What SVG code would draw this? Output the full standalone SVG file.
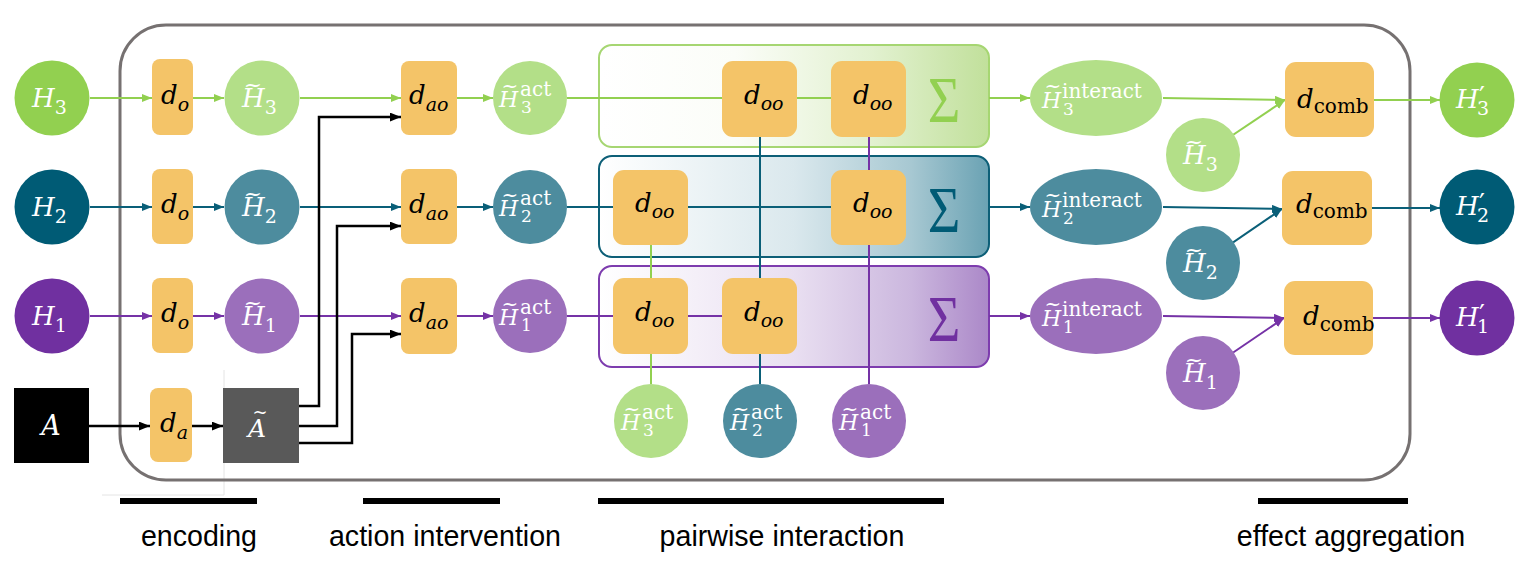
<svg xmlns="http://www.w3.org/2000/svg" width="1527" height="577" viewBox="0 0 1527 577">
<defs>
<style>
.mi{font-family:"DejaVu Serif","Liberation Serif",serif;font-style:italic}
.up{font-family:"DejaVu Serif","Liberation Serif",serif;font-style:normal}
.pr{font-family:"DejaVu Sans","Liberation Sans",sans-serif;font-style:normal}
.w{fill:#fff}
.k{fill:#000}
.op{fill:#f4c468}
.lg{stroke:#92d050;stroke-width:2;fill:none}
.lt{stroke:#0a5f78;stroke-width:2;fill:none}
.lp{stroke:#7532a6;stroke-width:2;fill:none}
.lk{stroke:#000;stroke-width:2.5;fill:none}
.lab{font-family:"Liberation Sans",Arial,sans-serif;font-size:28.6px;fill:#000;text-anchor:middle}
.sig{font-family:"Liberation Serif","Times New Roman",serif;font-size:66px;text-anchor:middle}
</style>
<marker id="mG" viewBox="0 0 10 8" refX="10" refY="4" markerWidth="10" markerHeight="8" markerUnits="userSpaceOnUse" orient="auto"><path d="M0,0 L10,4 L0,8 z" fill="#92d050"/></marker>
<marker id="mT" viewBox="0 0 10 8" refX="10" refY="4" markerWidth="10" markerHeight="8" markerUnits="userSpaceOnUse" orient="auto"><path d="M0,0 L10,4 L0,8 z" fill="#0a5f78"/></marker>
<marker id="mP" viewBox="0 0 10 8" refX="10" refY="4" markerWidth="10" markerHeight="8" markerUnits="userSpaceOnUse" orient="auto"><path d="M0,0 L10,4 L0,8 z" fill="#7532a6"/></marker>
<marker id="mK" viewBox="0 0 10 8" refX="10" refY="4" markerWidth="11" markerHeight="9" markerUnits="userSpaceOnUse" orient="auto"><path d="M0,0 L10,4 L0,8 z" fill="#000"/></marker>
<linearGradient id="gG" x1="0" y1="0" x2="1" y2="0">
<stop offset="0" stop-color="#ffffff"/><stop offset="0.35" stop-color="#fbfdf8"/><stop offset="0.7" stop-color="#e2f1d0"/><stop offset="1" stop-color="#c1e09b"/>
</linearGradient>
<linearGradient id="gT" x1="0" y1="0" x2="1" y2="0">
<stop offset="0" stop-color="#ffffff"/><stop offset="0.5" stop-color="#dae8ed"/><stop offset="0.8" stop-color="#a7c8d2"/><stop offset="1" stop-color="#6aa2b3"/>
</linearGradient>
<linearGradient id="gP" x1="0" y1="0" x2="1" y2="0">
<stop offset="0" stop-color="#ffffff"/><stop offset="0.5" stop-color="#e9dff1"/><stop offset="0.8" stop-color="#cbb7de"/><stop offset="1" stop-color="#ab88c8"/>
</linearGradient>
</defs>

<rect width="1527" height="577" fill="#fff"/>

<path d="M224,370 V495 H102" stroke="#e4e4e4" stroke-width="1" fill="none"/>

<rect id="frame" x="120" y="25" width="1290" height="455" rx="46" fill="none" stroke="#767171" stroke-width="3"/>

<g id="row3box"><rect x="599" y="45" width="390" height="102" rx="13" fill="url(#gG)" stroke="#a6d672" stroke-width="2"/></g>
<g id="row2box"><rect x="599" y="156" width="390" height="101" rx="13" fill="url(#gT)" stroke="#0d5f77" stroke-width="2"/></g>
<g id="row1box"><rect x="599" y="266" width="390" height="101" rx="13" fill="url(#gP)" stroke="#7d3cae" stroke-width="2"/></g>

<g id="connectors">
<line class="lg" x1="90" y1="98" x2="152" y2="98" marker-end="url(#mG)"/>
<line class="lg" x1="193" y1="98" x2="224" y2="98" marker-end="url(#mG)"/>
<line class="lg" x1="300" y1="98" x2="401" y2="98" marker-end="url(#mG)"/>
<line class="lg" x1="457" y1="98" x2="493" y2="98" marker-end="url(#mG)"/>
<line class="lg" x1="567" y1="98" x2="722" y2="98"/>
<line class="lg" x1="797" y1="98" x2="831" y2="98"/>
<line class="lg" x1="989" y1="98" x2="1030" y2="98" marker-end="url(#mG)"/>
<line class="lg" x1="1163" y1="98" x2="1285" y2="100" marker-end="url(#mG)"/>
<line class="lg" x1="1203" y1="155" x2="1285" y2="100" marker-end="url(#mG)"/>
<line class="lg" x1="1374" y1="100" x2="1440" y2="100" marker-end="url(#mG)"/>
<line class="lg" x1="651" y1="245" x2="651" y2="384"/>
<line class="lt" x1="90" y1="207" x2="152" y2="207" marker-end="url(#mT)"/>
<line class="lt" x1="193" y1="207" x2="224" y2="207" marker-end="url(#mT)"/>
<line class="lt" x1="300" y1="207" x2="401" y2="207" marker-end="url(#mT)"/>
<line class="lt" x1="457" y1="207" x2="493" y2="207" marker-end="url(#mT)"/>
<line class="lt" x1="567" y1="207" x2="613" y2="207"/>
<line class="lt" x1="688" y1="207" x2="831" y2="207"/>
<line class="lt" x1="989" y1="207" x2="1030" y2="207" marker-end="url(#mT)"/>
<line class="lt" x1="1163" y1="207" x2="1282" y2="209" marker-end="url(#mT)"/>
<line class="lt" x1="1203" y1="263" x2="1282" y2="209" marker-end="url(#mT)"/>
<line class="lt" x1="1372" y1="208" x2="1440" y2="208" marker-end="url(#mT)"/>
<line class="lt" x1="760" y1="137" x2="760" y2="384"/>
<line class="lp" x1="90" y1="316" x2="152" y2="316" marker-end="url(#mP)"/>
<line class="lp" x1="193" y1="316" x2="224" y2="316" marker-end="url(#mP)"/>
<line class="lp" x1="300" y1="316" x2="401" y2="316" marker-end="url(#mP)"/>
<line class="lp" x1="457" y1="316" x2="493" y2="316" marker-end="url(#mP)"/>
<line class="lp" x1="567" y1="316" x2="613" y2="316"/>
<line class="lp" x1="688" y1="316" x2="722" y2="316"/>
<line class="lp" x1="989" y1="316" x2="1030" y2="316" marker-end="url(#mP)"/>
<line class="lp" x1="1163" y1="316" x2="1284" y2="318" marker-end="url(#mP)"/>
<line class="lp" x1="1203" y1="373" x2="1284" y2="318" marker-end="url(#mP)"/>
<line class="lp" x1="1373" y1="318" x2="1440" y2="318" marker-end="url(#mP)"/>
<line class="lp" x1="869" y1="137" x2="869" y2="384"/>
<line class="lk" x1="89" y1="426" x2="150" y2="426" marker-end="url(#mK)"/>
<line class="lk" x1="192" y1="426" x2="223" y2="426" marker-end="url(#mK)"/>
<polyline class="lk" points="299,406 319,406 319,117 401,117" marker-end="url(#mK)"/>
<polyline class="lk" points="299,426 337,426 337,226 401,226" marker-end="url(#mK)"/>
<polyline class="lk" points="299,443 352,443 352,334 401,334" marker-end="url(#mK)"/>
</g>

<g id="H3"><circle cx="52" cy="98" r="37.5" fill="#92d050"/><text class="mi w" x="32" y="107" font-size="26">H<tspan class="up" font-size="19" dy="7">3</tspan></text></g>
<g id="H2"><circle cx="52" cy="207" r="37.5" fill="#005b75"/><text class="mi w" x="32" y="216" font-size="26">H<tspan class="up" font-size="19" dy="7">2</tspan></text></g>
<g id="H1"><circle cx="52" cy="316" r="37.5" fill="#7030a0"/><text class="mi w" x="32" y="325" font-size="26">H<tspan class="up" font-size="19" dy="7">1</tspan></text></g>
<g id="A"><rect x="14" y="388" width="75" height="75" fill="#000"/><text class="mi w" x="51" y="435" font-size="27" text-anchor="middle">A</text></g>

<g id="do3"><rect class="op" x="152" y="59" width="41" height="76" rx="8"/><text class="mi k" x="161" y="104" font-size="26">d<tspan font-size="19" dy="7">o</tspan></text></g>
<g id="do2"><rect class="op" x="152" y="169" width="41" height="75" rx="8"/><text class="mi k" x="161" y="213" font-size="26">d<tspan font-size="19" dy="7">o</tspan></text></g>
<g id="do1"><rect class="op" x="152" y="278" width="41" height="75" rx="8"/><text class="mi k" x="161" y="322" font-size="26">d<tspan font-size="19" dy="7">o</tspan></text></g>
<g id="da"><rect class="op" x="150" y="388" width="42" height="74" rx="8"/><text class="mi k" x="160" y="432" font-size="26">d<tspan font-size="19" dy="7">a</tspan></text></g>

<g id="Ht3"><circle cx="262" cy="98" r="37.5" fill="#b3df88"/><text class="up w" x="243.8" y="92" font-size="22">~<tspan class="mi" x="242" y="107" font-size="26">H</tspan><tspan font-size="19" dy="7">3</tspan></text></g>
<g id="Ht2"><circle cx="262" cy="207" r="37.5" fill="#4d8c9e"/><text class="up w" x="243.8" y="201" font-size="22">~<tspan class="mi" x="242" y="216" font-size="26">H</tspan><tspan font-size="19" dy="7">2</tspan></text></g>
<g id="Ht1"><circle cx="262" cy="316" r="37.5" fill="#9b6fbb"/><text class="up w" x="243.8" y="310" font-size="22">~<tspan class="mi" x="242" y="325" font-size="26">H</tspan><tspan font-size="19" dy="7">1</tspan></text></g>
<g id="At"><rect x="223" y="388" width="76" height="75" fill="#595959"/><text class="up w" x="252.5" y="418" font-size="18">~<tspan class="mi" x="248" y="437" font-size="25">A</tspan></text></g>

<g id="dao3"><rect class="op" x="401" y="61" width="56" height="74" rx="8"/><text class="mi k" x="409" y="104" font-size="26">d<tspan font-size="19" dy="7">ao</tspan></text></g>
<g id="dao2"><rect class="op" x="401" y="169" width="56" height="75" rx="8"/><text class="mi k" x="409" y="213" font-size="26">d<tspan font-size="19" dy="7">ao</tspan></text></g>
<g id="dao1"><rect class="op" x="401" y="278" width="56" height="76" rx="8"/><text class="mi k" x="409" y="322" font-size="26">d<tspan font-size="19" dy="7">ao</tspan></text></g>

<g id="Hact3"><circle cx="530" cy="98" r="37" fill="#b3df88"/><text class="up w" x="501.6" y="93" font-size="20">~<tspan class="mi" x="499" y="107" font-size="22">H</tspan><tspan x="520" y="96">act</tspan><tspan x="521" y="113" font-size="17">3</tspan></text></g>
<g id="Hact2"><circle cx="530" cy="207" r="37" fill="#4d8c9e"/><text class="up w" x="501.6" y="202" font-size="20">~<tspan class="mi" x="499" y="216" font-size="22">H</tspan><tspan x="520" y="205">act</tspan><tspan x="521" y="222" font-size="17">2</tspan></text></g>
<g id="Hact1"><circle cx="530" cy="316" r="37" fill="#9b6fbb"/><text class="up w" x="501.6" y="311" font-size="20">~<tspan class="mi" x="499" y="325" font-size="22">H</tspan><tspan x="520" y="314">act</tspan><tspan x="521" y="331" font-size="17">1</tspan></text></g>

<g id="doo3a"><rect class="op" x="722" y="61" width="75" height="76" rx="11"/><text class="mi k" x="744" y="104" font-size="26">d<tspan font-size="19" dy="6">oo</tspan></text></g>
<g id="doo3b"><rect class="op" x="831" y="61" width="75" height="76" rx="11"/><text class="mi k" x="853" y="104" font-size="26">d<tspan font-size="19" dy="6">oo</tspan></text></g>
<g id="doo2a"><rect class="op" x="613" y="170" width="75" height="75" rx="11"/><text class="mi k" x="635" y="212" font-size="26">d<tspan font-size="19" dy="6">oo</tspan></text></g>
<g id="doo2b"><rect class="op" x="831" y="170" width="75" height="75" rx="11"/><text class="mi k" x="853" y="212" font-size="26">d<tspan font-size="19" dy="6">oo</tspan></text></g>
<g id="doo1a"><rect class="op" x="613" y="278" width="75" height="76" rx="11"/><text class="mi k" x="635" y="321" font-size="26">d<tspan font-size="19" dy="6">oo</tspan></text></g>
<g id="doo1b"><rect class="op" x="722" y="278" width="75" height="76" rx="11"/><text class="mi k" x="744" y="321" font-size="26">d<tspan font-size="19" dy="6">oo</tspan></text></g>

<g id="sum3"><text class="sig" fill="#92d050" transform="translate(944,122) scale(0.85,1)">Σ</text></g>
<g id="sum2"><text class="sig" fill="#005b75" transform="translate(944,232) scale(0.85,1)">Σ</text></g>
<g id="sum1"><text class="sig" fill="#7030a0" transform="translate(944,341) scale(0.85,1)">Σ</text></g>

<g id="Hb3"><circle cx="651" cy="421" r="37" fill="#b3df88"/><text class="up w" x="623.6" y="416" font-size="20">~<tspan class="mi" x="621" y="430" font-size="22">H</tspan><tspan x="642" y="419">act</tspan><tspan x="643" y="436" font-size="17">3</tspan></text></g>
<g id="Hb2"><circle cx="760" cy="421" r="37" fill="#4d8c9e"/><text class="up w" x="732.6" y="416" font-size="20">~<tspan class="mi" x="730" y="430" font-size="22">H</tspan><tspan x="751" y="419">act</tspan><tspan x="752" y="436" font-size="17">2</tspan></text></g>
<g id="Hb1"><circle cx="869" cy="421" r="37" fill="#9b6fbb"/><text class="up w" x="841.6" y="416" font-size="20">~<tspan class="mi" x="839" y="430" font-size="22">H</tspan><tspan x="860" y="419">act</tspan><tspan x="861" y="436" font-size="17">1</tspan></text></g>

<g id="Hi3"><ellipse cx="1096" cy="98" rx="66" ry="38" fill="#b3df88"/><text class="up w" x="1044.6" y="93" font-size="20">~<tspan class="mi" x="1042" y="108" font-size="22">H</tspan><tspan x="1062" y="98">interact</tspan><tspan x="1063" y="115" font-size="17">3</tspan></text></g>
<g id="Hi2"><ellipse cx="1096" cy="207" rx="66" ry="38" fill="#4d8c9e"/><text class="up w" x="1044.6" y="202" font-size="20">~<tspan class="mi" x="1042" y="217" font-size="22">H</tspan><tspan x="1062" y="207">interact</tspan><tspan x="1063" y="224" font-size="17">2</tspan></text></g>
<g id="Hi1"><ellipse cx="1096" cy="316" rx="66" ry="38" fill="#9b6fbb"/><text class="up w" x="1044.6" y="311" font-size="20">~<tspan class="mi" x="1042" y="326" font-size="22">H</tspan><tspan x="1062" y="316">interact</tspan><tspan x="1063" y="333" font-size="17">1</tspan></text></g>

<g id="Hs3"><circle cx="1203" cy="155" r="37" fill="#b3df88"/><text class="up w" x="1184.8" y="149" font-size="22">~<tspan class="mi" x="1183" y="164" font-size="26">H</tspan><tspan font-size="19" dy="7">3</tspan></text></g>
<g id="Hs2"><circle cx="1203" cy="263" r="37" fill="#4d8c9e"/><text class="up w" x="1184.8" y="257" font-size="22">~<tspan class="mi" x="1183" y="272" font-size="26">H</tspan><tspan font-size="19" dy="7">2</tspan></text></g>
<g id="Hs1"><circle cx="1203" cy="373" r="37" fill="#9b6fbb"/><text class="up w" x="1184.8" y="367" font-size="22">~<tspan class="mi" x="1183" y="382" font-size="26">H</tspan><tspan font-size="19" dy="7">1</tspan></text></g>

<g id="dcomb3"><rect class="op" x="1285" y="62" width="89" height="75" rx="11"/><text class="mi k" x="1297" y="108" font-size="26">d<tspan class="up" font-size="20" dy="5">comb</tspan></text></g>
<g id="dcomb2"><rect class="op" x="1282" y="171" width="90" height="74" rx="11"/><text class="mi k" x="1296" y="213" font-size="26">d<tspan class="up" font-size="20" dy="5">comb</tspan></text></g>
<g id="dcomb1"><rect class="op" x="1284" y="281" width="89" height="74" rx="11"/><text class="mi k" x="1303" y="325" font-size="26">d<tspan class="up" font-size="20" dy="6">comb</tspan></text></g>

<g id="Hp3"><circle cx="1477" cy="100" r="37.5" fill="#92d050"/><text class="mi w" x="1456" y="108" font-size="26">H<tspan class="pr" x="1479" y="106" font-size="26">′</tspan><tspan class="up" x="1477" y="115" font-size="19">3</tspan></text></g>
<g id="Hp2"><circle cx="1477" cy="207" r="37.5" fill="#005b75"/><text class="mi w" x="1456" y="215" font-size="26">H<tspan class="pr" x="1479" y="213" font-size="26">′</tspan><tspan class="up" x="1477" y="222" font-size="19">2</tspan></text></g>
<g id="Hp1"><circle cx="1477" cy="318" r="37.5" fill="#7030a0"/><text class="mi w" x="1456" y="326" font-size="26">H<tspan class="pr" x="1479" y="324" font-size="26">′</tspan><tspan class="up" x="1477" y="333" font-size="19">1</tspan></text></g>

<g id="stages">
<rect x="120" y="498" width="137" height="6" fill="#000"/>
<rect x="363" y="498" width="137" height="6" fill="#000"/>
<rect x="598" y="498" width="346" height="6" fill="#000"/>
<rect x="1258" y="498" width="150" height="6" fill="#000"/>
<text class="lab" x="199" y="546">encoding</text>
<text class="lab" x="445" y="546">action intervention</text>
<text class="lab" x="782" y="546">pairwise interaction</text>
<text class="lab" x="1351" y="546">effect aggregation</text>
</g>
</svg>
